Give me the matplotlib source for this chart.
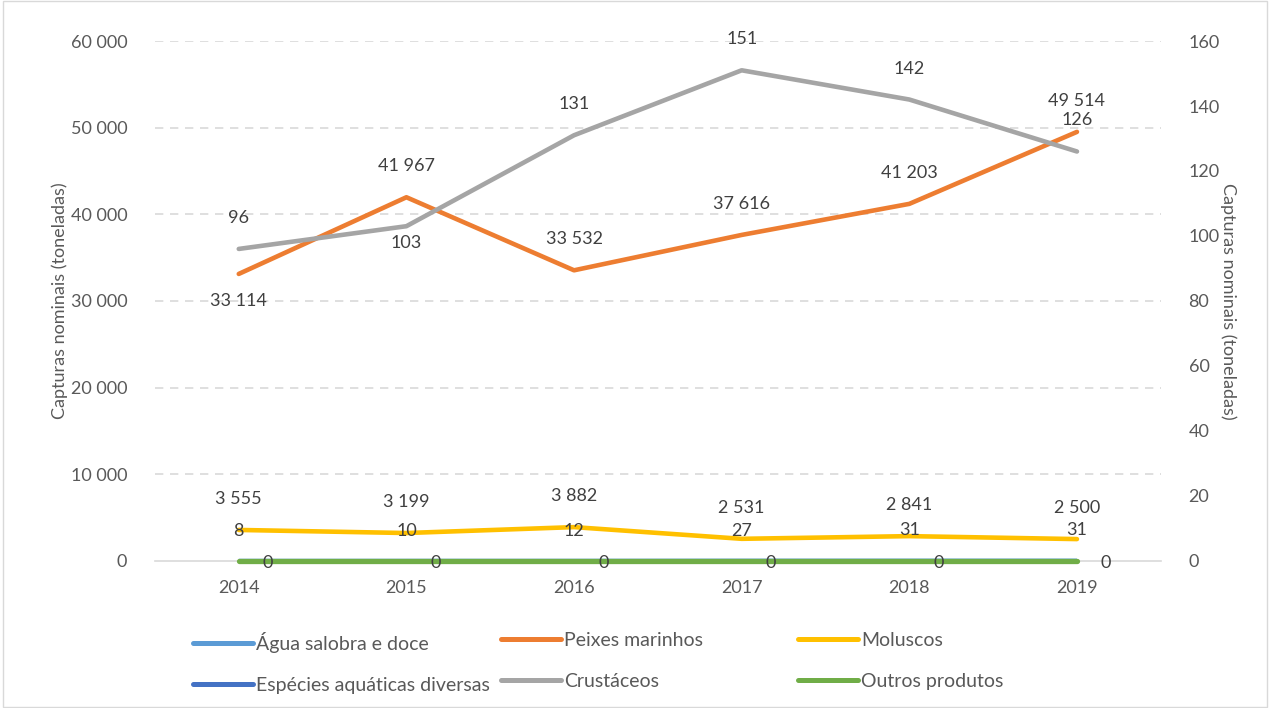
import matplotlib.pyplot as plt
from matplotlib.lines import Line2D

plt.rcParams['font.family'] = ['Lato', 'DejaVu Sans']

anos = ['2014', '2015', '2016', '2017', '2018', '2019']
agua_salobra = [8, 10, 12, 27, 31, 31]
peixes = [33114, 41967, 33532, 37616, 41203, 49514]
moluscos = [3555, 3199, 3882, 2531, 2841, 2500]
especies = [0, 0, 0, 0, 0, 0]
crustaceos = [96, 103, 131, 151, 142, 126]
outros = [0, 0, 0, 0, 0, 0]

c_agua, c_peixes, c_mol = '#5B9BD5', '#ED7D31', '#FFC000'
c_esp, c_crus, c_out = '#4472C4', '#A5A5A5', '#70AD47'
txt = '#404040'
axc = '#595959'

def fmt(v):
    return f'{v:,}'.replace(',', ' ')

fig = plt.figure(figsize=(12.7, 7.08), dpi=100)
ax = fig.add_axes([0.122, 0.208, 0.792, 0.734])
ax2 = ax.twinx()
x = list(range(len(anos)))
lw = 3.3

# series near zero must not be clipped by the axes edge
ax.plot(x, agua_salobra, color=c_agua, lw=2.8, solid_capstyle='butt', clip_on=False)
ax.plot(x, peixes, color=c_peixes, lw=lw, solid_capstyle='round')
ax.plot(x, moluscos, color=c_mol, lw=lw, solid_capstyle='round')
ax.plot(x, especies, color=c_esp, lw=2.8, solid_capstyle='butt', clip_on=False)
ax2.plot(x, crustaceos, color=c_crus, lw=lw, solid_capstyle='round')
ax2.plot(x, outros, color=c_out, lw=3.8, solid_capstyle='round', clip_on=False)

ax.set_xlim(-0.5, 5.5)
ax.set_ylim(0, 60000)
ax2.set_ylim(0, 160)
ax.set_yticks(range(0, 60001, 10000))
ax.set_yticklabels([fmt(v) for v in range(0, 60001, 10000)])
ax2.set_yticks(range(0, 161, 20))
ax.set_xticks(x)
ax.set_xticklabels(anos)

for a in (ax, ax2):
    for s in a.spines.values():
        s.set_visible(False)
    a.tick_params(length=0, colors=axc, labelsize=13)
ax.tick_params(axis='y', pad=20)
ax2.tick_params(axis='y', pad=20)
ax.tick_params(axis='x', pad=14)

for v in range(10000, 60001, 10000):
    ax.axhline(v, color='#D9D9D9', lw=1.2, ls=(0, (5, 4)), zorder=0)
ax.axhline(0, color='#D9D9D9', lw=1.2, zorder=0, clip_on=False)

ax.set_ylabel('Capturas nominais (toneladas)', color=axc, fontsize=13, labelpad=2)
ax2.set_ylabel('Capturas nominais (toneladas)', color=axc, fontsize=13,
               rotation=270, labelpad=0, va='bottom')

def lab(a, xi, yv, s, dy, dx=0, ha='center'):
    a.annotate(s, (xi, yv), xytext=(dx, dy), textcoords='offset pixels',
               ha=ha, va='center', fontsize=13, color=txt, zorder=5)

peixes_dy = [-27, 31, 31, 31, 31, 31]
for i, v in enumerate(peixes):
    lab(ax, i, v, fmt(v), peixes_dy[i])
crus_dy = [31, -17, 31, 31, 31, 31]
for i, v in enumerate(crustaceos):
    lab(ax2, i, v, str(v), crus_dy[i])
for i, v in enumerate(moluscos):
    lab(ax, i, v, fmt(v), 31)
for i, v in enumerate(agua_salobra):
    lab(ax, i, v, str(v), 30)
for i, v in enumerate(outros):
    lab(ax2, i, v, str(v), -2, dx=24, ha='left')

def leg(items, x0):
    handles = [Line2D([], [], color=c, lw=3.6, solid_capstyle='round') for c, _ in items]
    fig.legend(handles, [n for _, n in items], loc='upper left',
               bbox_to_anchor=(x0, 0.118), frameon=False, fontsize=14,
               labelcolor=axc, handlelength=3.1, handletextpad=0.15,
               labelspacing=1.2, borderaxespad=0)

leg([(c_agua, 'Água salobra e doce'), (c_esp, 'Espécies aquáticas diversas')], 0.146)
leg([(c_peixes, 'Peixes marinhos'), (c_crus, 'Crustáceos')], 0.388)
leg([(c_mol, 'Moluscos'), (c_out, 'Outros produtos')], 0.622)

fig.patches.append(plt.Rectangle((0.002, 0.002), 0.996, 0.996, transform=fig.transFigure,
                                 fill=False, edgecolor='#D9D9D9', lw=1))

fig.savefig('out.png', dpi=100)
